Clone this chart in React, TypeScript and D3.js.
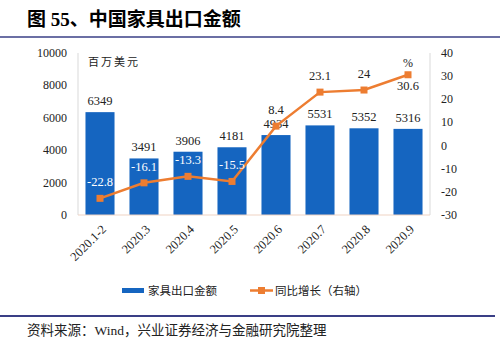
import * as d3 from "d3";

// chart data
const categories = ["2020.1-2", "2020.3", "2020.4", "2020.5", "2020.6", "2020.7", "2020.8", "2020.9"];
const exportValues = [6349, 3491, 3906, 4181, 4934, 5531, 5352, 5316];
const yoyGrowth = [-22.8, -16.1, -13.3, -15.5, 8.4, 23.1, 24, 30.6];
const leftTicks = [0, 2000, 4000, 6000, 8000, 10000];
const rightTicks = [-30, -20, -10, 0, 10, 20, 30, 40];

const W = 500;
const H = 361;
const FONT = "'Liberation Serif', 'Noto Sans CJK SC', serif";
const BLUE = "#1565C0";
const ORANGE = "#ED7D31";

const margin = { left: 78, right: 430, top: 53, bottom: 215 };

export default function App() {
    const x = d3.scaleBand<string>()
        .domain(categories)
        .range([margin.left, margin.right])
        .paddingInner(0.34)
        .paddingOuter(0.17);

    const yL = d3.scaleLinear().domain([0, 10000]).range([margin.bottom, margin.top]);
    const yR = d3.scaleLinear().domain([-30, 40]).range([margin.bottom, margin.top]);

    const cx = (c: string) => (x(c) as number) + x.bandwidth() / 2;

    const line = d3.line<number>()
        .x((d, i) => cx(categories[i]))
        .y(d => yR(d));

    return (
        <svg width={W} height={H} style={{ position: "absolute", left: 0, top: 0, background: "#fff" }} fontFamily={FONT}>
            {/* title */}
            <text x={27} y={26} fontSize={19} fontWeight="bold" fill="#000">图 55、中国家具出口金额</text>
            <line x1={0} x2={500} y1={37} y2={37} stroke="#3A3F86" strokeWidth={1.5} />

            {/* frame */}
            <line x1={margin.left} x2={margin.left} y1={margin.top} y2={margin.bottom} stroke="#D9D9D9" />
            <line x1={margin.right} x2={margin.right} y1={margin.top} y2={margin.bottom} stroke="#D9D9D9" />

            {/* bars */}
            {exportValues.map((v, i) => (
                <rect key={"b" + i} x={x(categories[i])} y={yL(v)} width={x.bandwidth()}
                    height={yL(0) - yL(v)} fill={BLUE} />
            ))}
            <line x1={margin.left} x2={margin.right} y1={margin.bottom} y2={margin.bottom} stroke="#EFD3C3" />

            {/* bar labels */}
            {exportValues.map((v, i) => (
                <text key={"bl" + i} x={cx(categories[i])} y={yL(v) - 7} textAnchor="middle" fontSize={12.5} fill="#222">{v}</text>
            ))}

            {/* line */}
            <path d={line(yoyGrowth) as string} fill="none" stroke={ORANGE} strokeWidth={2.5} />
            {yoyGrowth.map((v, i) => (
                <rect key={"m" + i} x={cx(categories[i]) - 3.5} y={yR(v) - 3.5} width={7} height={7} fill={ORANGE} />
            ))}
            {yoyGrowth.map((v, i) => {
                const last = i === yoyGrowth.length - 1;
                return (
                    <text key={"ll" + i} x={cx(categories[i])} y={last ? yR(v) + 15 : yR(v) - 12}
                        textAnchor="middle" fontSize={12.5} fill={i < 4 ? "#fff" : "#222"}>{v}</text>
                );
            })}

            {/* left axis */}
            {leftTicks.map(t => (
                <text key={"lt" + t} x={67} y={yL(t) + 4} textAnchor="end" fontSize={12} fill="#222">{t}</text>
            ))}
            {/* right axis */}
            {rightTicks.map(t => (
                <text key={"rt" + t} x={441} y={yR(t) + 4} textAnchor="start" fontSize={12} fill="#222">{t}</text>
            ))}
            <text x={88} y={66} fontSize={11} fill="#222" letterSpacing={2}>百万美元</text>
            <text x={408} y={67} textAnchor="middle" fontSize={12} fill="#222">%</text>

            {/* x axis labels */}
            {categories.map(c => (
                <text key={"x" + c} transform={`translate(${cx(c) + 7},${margin.bottom + 15}) rotate(-45)`}
                    textAnchor="end" fontSize={12.5} fill="#222">{c}</text>
            ))}

            {/* legend */}
            <rect x={122} y={288} width={22} height={5} fill={BLUE} />
            <text x={148} y={295} fontSize={11.5} fill="#222">家具出口金额</text>
            <line x1={250} x2={273} y1={290.5} y2={290.5} stroke={ORANGE} strokeWidth={2.5} />
            <rect x={258} y={287} width={7} height={7} fill={ORANGE} />
            <text x={275} y={295} fontSize={11.5} fill="#222">同比增长（右轴）</text>

            {/* footer */}
            <line x1={0} x2={495} y1={316} y2={316} stroke="#3A3F86" strokeWidth={2} />
            <text x={27} y={335} fontSize={13.5} fill="#222">资料来源：Wind，兴业证券经济与金融研究院整理</text>
        </svg>
    );
}
